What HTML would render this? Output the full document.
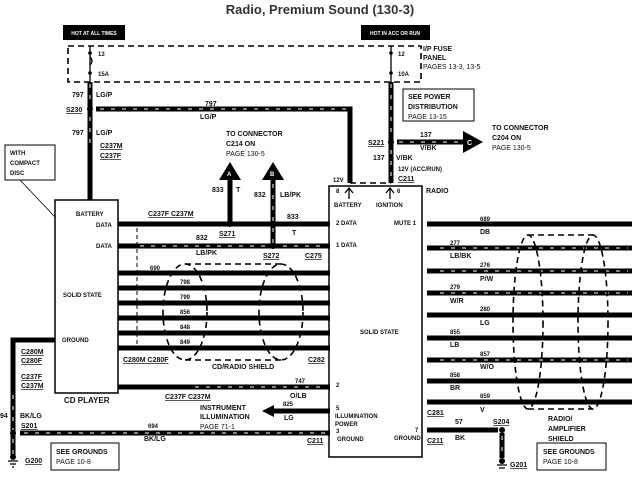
<!DOCTYPE html>
<html><head><meta charset="utf-8"><style>
html,body{margin:0;padding:0;background:#fff;}
svg{display:block;}
text{font-family:"Liberation Sans",sans-serif;font-weight:bold;fill:#111;}
.s{font-size:6px;}
.m{font-size:7px;}
.l{font-size:8px;}
.w{stroke:#000;stroke-width:5;fill:none;}
.st{stroke:#fff;stroke-width:1;stroke-dasharray:4 7;fill:none;}
.d{stroke:#000;stroke-width:1.6;fill:none;stroke-dasharray:6 4;}
.t{stroke:#000;stroke-width:1.3;fill:none;}
</style></head><body>
<svg width="640" height="480" viewBox="0 0 640 480" xmlns="http://www.w3.org/2000/svg">
<text x="320" y="14" text-anchor="middle" style="font-size:13px;fill:#333">Radio, Premium Sound (130-3)</text>
<rect x="63" y="25" width="62" height="15" fill="#000"/>
<text x="94" y="35" text-anchor="middle" style="font-size:5px;fill:#fff">HOT AT ALL TIMES</text>
<rect x="361" y="25" width="69" height="15" fill="#000"/>
<text x="395" y="35" text-anchor="middle" style="font-size:5px;fill:#fff">HOT IN ACC OR RUN</text>
<path class="d" d="M68 46H421V82H68V46"/>
<text x="423" y="51" class="m">I/P FUSE</text><text x="423" y="60" class="m">PANEL</text>
<text x="423" y="69" class="m" style="font-weight:normal">PAGES 13-3, 13-5</text>
<line x1="90" y1="46" x2="90" y2="82" class="t"/><circle cx="90" cy="53" r="1.8"/><circle cx="90" cy="73" r="1.8"/>
<path d="M90 57q4 4 0 8" class="t" fill="#fff" stroke-width="1.5"/>
<text x="98" y="56" class="s">13</text><text x="98" y="76" class="s">15A</text>
<line x1="391" y1="46" x2="391" y2="82" class="t"/><circle cx="391" cy="53" r="1.8"/><circle cx="391" cy="73" r="1.8"/>
<text x="398" y="56" class="s">12</text><text x="398" y="76" class="s">10A</text>
<path class="w" d="M90 82V200"/><path class="st" d="M90 84V145"/>
<text x="72" y="97" class="m">797</text><text x="96" y="97" class="m">LG/P</text>
<circle cx="90" cy="109" r="3"/><text x="66" y="112" class="m" text-decoration="underline">S230</text>
<path class="w" d="M96 109H350V183"/><path class="st" d="M100 109H347V183"/>
<text x="205" y="106" class="m">797</text><text x="200" y="119" class="m">LG/P</text>
<text x="72" y="135" class="m">797</text><text x="96" y="135" class="m">LG/P</text>
<text x="100" y="148" class="m" text-decoration="underline">C237M</text><text x="100" y="158" class="m" text-decoration="underline">C237F</text>
<rect x="5" y="145" width="50" height="35" fill="#fff" stroke="#000"/>
<text x="10" y="155" class="s">WITH</text><text x="10" y="165" class="s">COMPACT</text><text x="10" y="175" class="s">DISC</text>
<line x1="20" y1="180" x2="55" y2="217" stroke="#000" stroke-width="0.8"/>
<rect x="55" y="200" width="63" height="193" fill="#fff" stroke="#000" stroke-width="1.5"/>
<text x="76" y="216" class="s">BATTERY</text><text x="96" y="227" class="s">DATA</text><text x="96" y="248" class="s">DATA</text>
<text x="63" y="297" class="s">SOLID STATE</text><text x="62" y="342" class="s">GROUND</text>
<text x="64" y="403" class="l">CD PLAYER</text>
<path class="w" d="M391 82V183"/><path class="st" d="M391 84V180"/>
<rect x="403" y="89" width="71" height="32" fill="#fff" stroke="#000"/>
<text x="408" y="99" class="m">SEE POWER</text><text x="408" y="109" class="m">DISTRIBUTION</text><text x="408" y="119" class="m" style="font-weight:normal">PAGE 13-15</text>
<circle cx="391" cy="142" r="3"/><text x="368" y="145" class="m" text-decoration="underline">S221</text>
<path class="w" d="M397 142H468"/><path class="st" d="M399 142H466"/>
<polygon points="463,131 483,142 463,153"/><text x="467" y="145" class="m" style="fill:#fff">C</text>
<text x="420" y="137" class="m">137</text><text x="420" y="150" class="m">V/BK</text>
<text x="492" y="130" class="m">TO CONNECTOR</text><text x="492" y="140" class="m">C204 ON</text><text x="492" y="150" class="m" style="font-weight:normal">PAGE 130-5</text>
<text x="373" y="160" class="m">137</text><text x="396" y="160" class="m">V/BK</text>
<text x="398" y="171" class="s">12V (ACC/RUN)</text><text x="398" y="181" class="m" text-decoration="underline">C211</text>
<text x="333" y="182" class="s">12V</text>
<line x1="350" y1="183" x2="391" y2="183" class="d" stroke-width="1"/>
<rect x="329" y="186" width="93" height="271" fill="#fff" stroke="#000" stroke-width="1.5"/>
<text x="426" y="193" class="m">RADIO</text>
<path class="t" d="M349 188V199M345 193l4-5 4 5M390 188V199M386 193l4-5 4 5"/>
<text x="336" y="193" class="s">8</text><text x="397" y="193" class="s">6</text>
<text x="334" y="207" class="s">BATTERY</text><text x="376" y="207" class="s">IGNITION</text>
<text x="336" y="225" class="s">2 DATA</text><text x="336" y="247" class="s">1 DATA</text>
<text x="394" y="225" class="s">MUTE 1</text><text x="360" y="334" class="s">SOLID STATE</text>
<text x="336" y="387" class="s">2</text><text x="336" y="410" class="s">5</text><text x="335" y="418" class="s">ILLUMINATION</text><text x="335" y="426" class="s">POWER</text>
<text x="336" y="433" class="s">3</text><text x="337" y="441" class="s">GROUND</text>
<text x="415" y="432" class="s">7</text><text x="394" y="440" class="s">GROUND</text>
<path class="w" d="M118 224H330M118 246H330"/>
<path class="st" d="M140 246H325"/>
<circle cx="230" cy="224" r="3"/><circle cx="273" cy="246" r="3"/>
<text x="148" y="216" class="m" text-decoration="underline">C237F C237M</text>
<text x="219" y="236" class="m" text-decoration="underline">S271</text><text x="263" y="258" class="m" text-decoration="underline">S272</text>
<text x="305" y="258" class="m" text-decoration="underline">C275</text>
<text x="196" y="240" class="m">832</text><text x="196" y="255" class="m">LB/PK</text>
<text x="287" y="219" class="m">833</text><text x="292" y="235" class="m">T</text>
<path class="w" d="M230 224V178M273 246V178"/><path class="st" d="M273 243V182"/>
<polygon points="219,180 230,162 241,180"/><polygon points="262,180 273,162 284,180"/>
<text x="227" y="176" class="s" style="fill:#fff">A</text><text x="270" y="176" class="s" style="fill:#fff">B</text>
<text x="212" y="192" class="m">833</text><text x="236" y="192" class="m">T</text>
<text x="254" y="197" class="m">832</text><text x="280" y="197" class="m">LB/PK</text>
<text x="226" y="136" class="m">TO CONNECTOR</text><text x="226" y="146" class="m">C214 ON</text><text x="226" y="156" class="m" style="font-weight:normal">PAGE 130-5</text>
<path class="w" d="M118 273H330M118 288H330M118 303H330M118 318H330M118 333H330M118 348H330"/>
<line x1="137" y1="228" x2="137" y2="350" stroke="#000" stroke-dasharray="4 3"/>
<text x="150" y="270" class="s">690</text><text x="180" y="284" class="s">798</text><text x="180" y="299" class="s">799</text>
<text x="180" y="314" class="s">856</text><text x="180" y="329" class="s">848</text><text x="180" y="344" class="s">849</text>
<ellipse cx="185" cy="312" rx="22" ry="48" class="d" stroke-width="1.5"/>
<ellipse cx="281" cy="312" rx="22" ry="48" class="d" stroke-width="1.5"/>
<path class="d" d="M185 264H281M185 360H281" stroke-width="1.5"/>
<text x="123" y="362" class="m" text-decoration="underline">C280M C280F</text>
<text x="212" y="369" class="m">CD/RADIO SHIELD</text><text x="308" y="362" class="m" text-decoration="underline">C282</text>
<path class="w" d="M118 387H330"/><path class="st" d="M195 387H325"/>
<text x="165" y="399" class="m" text-decoration="underline">C237F C237M</text>
<text x="295" y="383" class="s">747</text><text x="290" y="398" class="m">O/LB</text>
<path class="w" d="M330 411H272"/><polygon points="274,405 262,411 274,417"/>
<text x="283" y="406" class="s">825</text><text x="284" y="420" class="m">LG</text>
<text x="200" y="410" class="m">INSTRUMENT</text><text x="200" y="419" class="m">ILLUMINATION</text><text x="200" y="429" class="m" style="font-weight:normal">PAGE 71-1</text>
<path class="w" d="M55 340H13V458"/><path class="st" d="M13 395V458"/>
<text x="21" y="354" class="m" text-decoration="underline">C280M</text><text x="21" y="363" class="m" text-decoration="underline">C280F</text>
<text x="21" y="379" class="m" text-decoration="underline">C237F</text><text x="21" y="388" class="m" text-decoration="underline">C237M</text>
<text x="0" y="418" class="m">94</text><text x="20" y="418" class="m">BK/LG</text><text x="21" y="428" class="m" text-decoration="underline">S201</text>
<circle cx="13" cy="433" r="3"/>
<path class="w" d="M20 433H330"/><path class="st" d="M24 433H326"/>
<text x="148" y="428" class="s">694</text><text x="144" y="441" class="m">BK/LG</text>
<text x="307" y="443" class="m" text-decoration="underline">C211</text>
<path class="t" d="M8 461H18M10 464H16M12 467H14"/><circle cx="13" cy="457" r="3"/>
<text x="25" y="463" class="m" text-decoration="underline">G200</text>
<rect x="51" y="443" width="68" height="27" fill="#fff" stroke="#000"/>
<text x="56" y="454" class="m">SEE GROUNDS</text><text x="56" y="464" class="m" style="font-weight:normal">PAGE 10-8</text>
<path class="w" d="M427 224H632M427 248H632M427 271H632M427 293H632M427 315H632M427 338H632M427 360H632M427 381H632M427 402H632"/>
<path class="st" d="M440 248H628M440 271H628M440 293H628M440 360H628"/>
<text x="480" y="221" class="s">689</text><text x="480" y="234" class="m">DB</text>
<text x="450" y="245" class="s">277</text><text x="450" y="258" class="m">LB/BK</text>
<text x="480" y="267" class="s">276</text><text x="480" y="281" class="m">P/W</text>
<text x="450" y="289" class="s">279</text><text x="450" y="303" class="m">W/R</text>
<text x="480" y="311" class="s">280</text><text x="480" y="325" class="m">LG</text>
<text x="450" y="334" class="s">855</text><text x="450" y="347" class="m">LB</text>
<text x="480" y="356" class="s">857</text><text x="480" y="369" class="m">W/O</text>
<text x="450" y="377" class="s">858</text><text x="450" y="390" class="m">BR</text>
<text x="480" y="398" class="s">859</text><text x="480" y="412" class="m">V</text>
<ellipse cx="528" cy="322" rx="15" ry="87" class="d" stroke-width="1.5"/>
<ellipse cx="593" cy="322" rx="15" ry="87" class="d" stroke-width="1.5"/>
<path class="d" d="M528 235H593M528 409H593" stroke-width="1.5"/>
<text x="427" y="415" class="m" text-decoration="underline">C281</text>
<path class="w" d="M427 430H498"/><text x="455" y="424" class="m">57</text><text x="455" y="440" class="m">BK</text>
<text x="427" y="443" class="m" text-decoration="underline">C211</text>
<circle cx="502" cy="430" r="3"/><text x="493" y="424" class="m" text-decoration="underline">S204</text>
<path class="w" d="M502 433V458"/><path class="st" d="M502 436V455"/>
<circle cx="502" cy="461" r="3"/><path class="t" d="M497 465H507M499 468H505"/>
<text x="510" y="467" class="m" text-decoration="underline">G201</text>
<text x="548" y="421" class="m">RADIO/</text><text x="548" y="431" class="m">AMPLIFIER</text><text x="548" y="441" class="m">SHIELD</text>
<rect x="537" y="443" width="69" height="27" fill="#fff" stroke="#000"/>
<text x="543" y="454" class="m">SEE GROUNDS</text><text x="543" y="464" class="m" style="font-weight:normal">PAGE 10-8</text>
</svg>
</body></html>
